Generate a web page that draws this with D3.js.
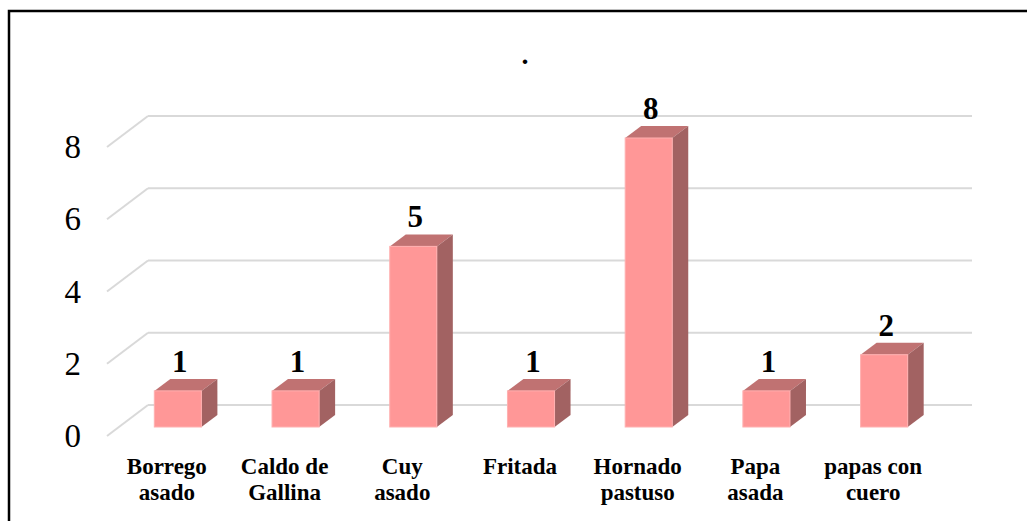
<!DOCTYPE html>
<html lang="es">
<head>
  <meta charset="UTF-8">
  <title>Platos típicos</title>
  <script src="https://d3js.org/d3.v7.min.js"></script>
  <style>
    body { margin: 0; padding: 0; background: #fff; }
    svg { display: block; font-family: 'Liberation Serif', 'DejaVu Serif', serif; }
    .grid line { stroke: #d9d9d9; stroke-width: 2; }
  </style>
</head>
<body>
  <div id="chart"></div>
  <script>
    // data
    const categories = [
      ["Borrego", "asado"],
      ["Caldo de", "Gallina"],
      ["Cuy", "asado"],
      ["Fritada"],
      ["Hornado", "pastuso"],
      ["Papa", "asada"],
      ["papas con", "cuero"]
    ];
    const values = [1, 1, 5, 1, 8, 1, 2];
    const yTicks = [0, 2, 4, 6, 8];

    const W = 1027, H = 521;
    const keys = categories.map(c => c.join(" "));

    const svg = d3.select("#chart").append("svg")
      .attr("width", W).attr("height", H);

    // outer frame (runs off the right and bottom edge)
    svg.append("rect")
      .attr("x", 9).attr("y", 11)
      .attr("width", W + 20).attr("height", H + 20)
      .attr("fill", "none").attr("stroke", "#000").attr("stroke-width", 2.5);

    // title
    svg.append("text")
      .attr("x", 525).attr("y", 64)
      .attr("text-anchor", "middle")
      .attr("font-size", 28).attr("font-weight", "bold")
      .text(".");

    // bars sit a little in front of the back wall
    const x = d3.scaleBand().domain(keys).range([119, 943])
      .paddingInner(0.6).paddingOuter(0.3);
    const y = d3.scaleLinear().domain([0, 8]).range([427, 138]);
    const yWall = d3.scaleLinear().domain([0, 8]).range([405, 116]);

    const wallDx = 29;          // bar plane -> back wall
    const floorDx = -41, floorDy = 31;   // back wall -> front edge of floor
    const barDx = 16, barDy = -12;       // bar depth

    const [x0, x1] = x.range();

    // gridlines: back wall line + perspective diagonal to the floor front
    const grid = svg.append("g").attr("class", "grid");
    yTicks.forEach(v => {
      const yy = yWall(v);
      grid.append("line")
        .attr("x1", x0 + wallDx).attr("x2", x1 + wallDx)
        .attr("y1", yy).attr("y2", yy);
      grid.append("line")
        .attr("x1", x0 + wallDx + floorDx).attr("y1", yy + floorDy)
        .attr("x2", x0 + wallDx).attr("y2", yy);
    });

    // y tick labels
    svg.append("g").selectAll("text")
      .data(yTicks).join("text")
      .attr("x", 81)
      .attr("y", d => yWall(d) + floorDy)
      .attr("dy", "0.34em")
      .attr("text-anchor", "end")
      .attr("font-size", 33)
      .text(d => d);

    // 3d bars
    const bars = svg.append("g").selectAll("g")
      .data(keys.map((k, i) => ({ k, v: values[i], label: categories[i] })))
      .join("g");

    const bw = x.bandwidth();
    bars.append("path") // top
      .attr("fill", "#c07272")
      .attr("d", d => {
        const bx = x(d.k), by = y(d.v);
        return `M${bx},${by}L${bx + barDx},${by + barDy}L${bx + bw + barDx},${by + barDy}L${bx + bw},${by}Z`;
      });
    bars.append("path") // side
      .attr("fill", "#a26262")
      .attr("d", d => {
        const bx = x(d.k) + bw, by = y(d.v), b0 = y(0);
        return `M${bx},${by}L${bx + barDx},${by + barDy}L${bx + barDx},${b0 + barDy}L${bx},${b0}Z`;
      });
    bars.append("rect") // front
      .attr("fill", "#ff9797")
      .attr("stroke", "#ffb0b0").attr("stroke-width", 1)
      .attr("x", d => x(d.k)).attr("width", bw)
      .attr("y", d => y(d.v)).attr("height", d => y(0) - y(d.v));

    // value labels
    bars.append("text")
      .attr("x", d => x(d.k) + bw / 2 + 2)
      .attr("y", d => y(d.v) + barDy - 7)
      .attr("text-anchor", "middle")
      .attr("font-size", 31).attr("font-weight", "bold")
      .text(d => d.v);

    // category labels, centred on the floor front edge
    const cat = bars.append("text")
      .attr("text-anchor", "middle")
      .attr("font-size", 23).attr("font-weight", "bold");
    cat.selectAll("tspan")
      .data(d => d.label.map(t => ({ t, cx: x(d.k) + bw / 2 - 11 })))
      .join("tspan")
      .attr("x", d => d.cx)
      .attr("y", (d, i) => 474 + i * 26)
      .text(d => d.t);
  </script>
</body>
</html>
